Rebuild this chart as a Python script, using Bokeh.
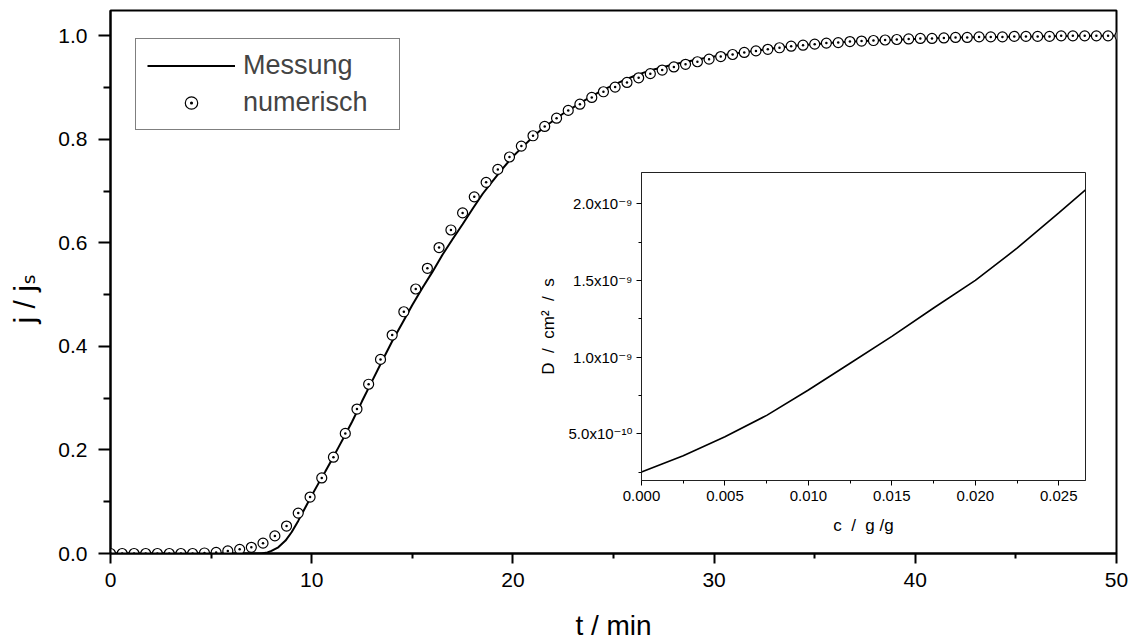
from bokeh.plotting import figure
from bokeh.models import (Range1d, FixedTicker, PrintfTickFormatter, Legend, LegendItem,
                          CustomJSTickFormatter)
from bokeh.embed import file_html
from bokeh.resources import INLINE

FONT = "Liberation Sans"
FONT_FB = "Liberation Sans, DejaVu Sans, Noto Sans"

# ---- main chart data: j/js vs t (min)
t_num = [0.00, 0.58, 1.17, 1.75, 2.33, 2.92, 3.50, 4.08, 4.67, 5.25,
         5.83, 6.42, 7.00, 7.58, 8.17, 8.75, 9.33, 9.92, 10.50, 11.08,
         11.67, 12.25, 12.83, 13.42, 14.00, 14.58, 15.17, 15.75, 16.33, 16.92,
         17.50, 18.08, 18.67, 19.25, 19.83, 20.42, 21.00, 21.58, 22.17, 22.75,
         23.33, 23.92, 24.50, 25.08, 25.67, 26.25, 26.83, 27.42, 28.00, 28.58,
         29.17, 29.75, 30.33, 30.92, 31.50, 32.08, 32.67, 33.25, 33.83, 34.42,
         35.00, 35.58, 36.17, 36.75, 37.33, 37.92, 38.50, 39.08, 39.67, 40.25,
         40.83, 41.42, 42.00, 42.58, 43.17, 43.75, 44.33, 44.92, 45.50, 46.08,
         46.67, 47.25, 47.83, 48.42, 49.00, 49.58, 50.17]
j_num = [0.000, 0.000, 0.000, 0.000, 0.000, 0.000, 0.000, 0.000, 0.001, 0.002,
         0.005, 0.008, 0.012, 0.020, 0.034, 0.053, 0.078, 0.109, 0.146, 0.186,
         0.232, 0.279, 0.327, 0.375, 0.422, 0.467, 0.511, 0.551, 0.591, 0.625,
         0.658, 0.689, 0.717, 0.742, 0.766, 0.787, 0.807, 0.825, 0.841, 0.856,
         0.868, 0.881, 0.892, 0.901, 0.910, 0.919, 0.927, 0.934, 0.940, 0.945,
         0.950, 0.955, 0.960, 0.964, 0.968, 0.971, 0.974, 0.977, 0.980, 0.982,
         0.984, 0.986, 0.987, 0.989, 0.990, 0.991, 0.992, 0.993, 0.994, 0.995,
         0.995, 0.996, 0.997, 0.997, 0.998, 0.998, 0.998, 0.999, 0.999, 0.999,
         0.999, 1.000, 1.000, 1.000, 1.000, 1.000, 1.000]

t_mess = [0.0, 5.0, 7.0, 7.5, 7.8, 8.0, 8.34, 8.7, 9.0, 9.33, 9.67, 10.0, 10.33, 10.67,
          11.0, 11.33, 11.66, 12.0, 12.5, 13.0, 13.5, 14.0, 14.5, 15.0, 15.5, 16.0,
          16.5, 17.0, 17.5, 18.0, 18.5, 19.0, 19.5, 20.0, 20.5, 21.0, 21.5, 22.0,
          22.5, 23.0, 23.5, 24.0, 24.5, 25.0, 25.5, 26.0, 26.5, 27.0, 27.5, 28.0,
          28.5, 29.0, 29.5, 30.0, 31.0, 32.0, 33.0, 34.0, 35.0, 36.0, 38.0, 40.0,
          42.0, 44.0, 46.0, 48.0, 50.0]
j_mess = [0.0, 0.0, 0.0, 0.0, 0.002, 0.005, 0.012, 0.025, 0.041, 0.063, 0.088, 0.112,
          0.135, 0.158, 0.181, 0.205, 0.229, 0.254, 0.294, 0.333, 0.372, 0.410,
          0.445, 0.480, 0.513, 0.544, 0.577, 0.607, 0.636, 0.666, 0.695, 0.720,
          0.744, 0.767, 0.786, 0.805, 0.822, 0.836, 0.850, 0.862, 0.874, 0.885,
          0.896, 0.905, 0.914, 0.922, 0.929, 0.935, 0.940, 0.945, 0.949, 0.953,
          0.957, 0.960, 0.966, 0.971, 0.976, 0.981, 0.984, 0.987, 0.991, 0.994,
          0.997, 0.998, 0.999, 1.000, 1.000]

x_ticks = [0, 10, 20, 30, 40, 50]
x_minor = [5, 15, 25, 35, 45]
y_ticks = [0.0, 0.2, 0.4, 0.6, 0.8, 1.0]
y_minor = [0.1, 0.3, 0.5, 0.7, 0.9]

# ---- inset data: D (cm^2/s) vs c (g/g)
c_vals = [0.0, 0.0025, 0.005, 0.0075, 0.010, 0.0125, 0.015, 0.0175, 0.020, 0.0225, 0.025, 0.0266]
D_vals = [2.5e-10, 3.57e-10, 4.8e-10, 6.2e-10, 7.85e-10, 9.6e-10, 1.135e-9, 1.32e-9,
          1.5e-9, 1.71e-9, 1.94e-9, 2.09e-9]
c_ticks = [0.0, 0.005, 0.010, 0.015, 0.020, 0.025]
c_minor = [0.0025, 0.0075, 0.0125, 0.0175, 0.0225]
D_ticks = [5.0e-10, 1.0e-9, 1.5e-9, 2.0e-9]
D_minor = [2.5e-10, 7.5e-10, 1.25e-9, 1.75e-9]

NB = "\u00a0"

# ================= main figure
p = figure(width=1136, height=643, output_backend="svg", toolbar_location=None,
           x_range=Range1d(0, 50), y_range=Range1d(0, 1.049),
           min_border_left=110, min_border_right=20, min_border_top=10, min_border_bottom=89)
p.grid.visible = False
p.outline_line_color = "black"
p.outline_line_width = 2
p.background_fill_color = "white"
p.border_fill_color = "white"

for ax in (p.xaxis[0], p.yaxis[0]):
    ax.axis_line_width = 2
    ax.axis_line_color = "black"
    ax.major_tick_line_width = 2
    ax.minor_tick_line_width = 2
    ax.major_tick_in = 0
    ax.minor_tick_in = 0
    ax.major_label_text_font = FONT
    ax.major_label_text_font_size = "21px"
    ax.major_label_text_color = "black"
    ax.axis_label_text_font_size = "28px"
    ax.axis_label_text_font_style = "normal"
    ax.axis_label_text_color = "black"

p.xaxis.ticker = FixedTicker(ticks=x_ticks, minor_ticks=x_minor)
p.xaxis.formatter = PrintfTickFormatter(format="%d")
p.xaxis.major_tick_out = 10
p.xaxis.minor_tick_out = 5
p.xaxis.major_label_standoff = 9
p.xaxis.axis_label = "t / min"
p.xaxis.axis_label_text_font = FONT
p.xaxis.axis_label_standoff = 20

p.yaxis.ticker = FixedTicker(ticks=y_ticks, minor_ticks=y_minor)
p.yaxis.formatter = PrintfTickFormatter(format="%.1f")
p.yaxis.major_tick_out = 12
p.yaxis.minor_tick_out = 7
p.yaxis.major_label_standoff = 11
p.yaxis.axis_label = "j / j\u209b" + NB * 4
p.yaxis.axis_label_text_font = FONT_FB
p.yaxis.axis_label_text_font_size = "30px"
p.yaxis.axis_label_standoff = 14

r_line = p.line(t_mess, j_mess, line_color="black", line_width=2)
r_circ = p.scatter(t_num, j_num, marker="circle_dot", size=10, line_color="black",
                   line_width=1.2, fill_color="white")

legend = Legend(items=[LegendItem(label="Messung", renderers=[r_line]),
                       LegendItem(label="numerisch", renderers=[r_circ])],
                location=(25, 423), padding=11, spacing=6, glyph_width=88, glyph_height=31,
                label_height=31, label_width=145, label_standoff=8,
                label_text_font=FONT, label_text_font_size="27px",
                border_line_color="black", border_line_width=1,
                background_fill_color="white", background_fill_alpha=1.0,
                margin=0)
p.add_layout(legend, "center")

# ================= inset figure
inset = figure(width=556, height=378, output_backend="svg", toolbar_location=None,
               x_range=Range1d(0, 0.0266), y_range=Range1d(1.95e-10, 2.204e-9),
               min_border_left=90, min_border_right=6, min_border_top=5, min_border_bottom=65,
               styles={"position": "absolute", "left": "535px", "top": "167px"})
inset.grid.visible = False
inset.outline_line_color = "#222222"
inset.outline_line_width = 1
inset.background_fill_color = "white"
inset.border_fill_alpha = 0

for ax in (inset.xaxis[0], inset.yaxis[0]):
    ax.axis_line_width = 1
    ax.axis_line_color = "#222222"
    ax.major_tick_in = 0
    ax.minor_tick_in = 0
    ax.major_tick_out = 5
    ax.minor_tick_out = 3
    ax.major_label_text_font = FONT_FB
    ax.major_label_text_font_size = "15px"
    ax.major_label_text_color = "black"
    ax.axis_label_text_font = FONT
    ax.axis_label_text_font_size = "17px"
    ax.axis_label_text_font_style = "normal"
    ax.axis_label_text_color = "black"

inset.xaxis.ticker = FixedTicker(ticks=c_ticks, minor_ticks=c_minor)
inset.xaxis.formatter = PrintfTickFormatter(format="%.3f")
inset.xaxis.major_label_standoff = 5
inset.xaxis.axis_label = "c" + NB * 2 + "/" + NB * 2 + "g" + NB + "/g"
inset.xaxis.axis_label_standoff = 12

inset.yaxis.ticker = FixedTicker(ticks=D_ticks, minor_ticks=D_minor)
inset.yaxis.formatter = CustomJSTickFormatter(code="""
const e = Math.floor(Math.log10(Math.abs(tick)) + 1e-9);
const m = tick / Math.pow(10, e);
const sup = {'-':'\u207b','0':'\u2070','1':'\u00b9','2':'\u00b2','3':'\u00b3','4':'\u2074','5':'\u2075','6':'\u2076','7':'\u2077','8':'\u2078','9':'\u2079'};
const es = String(e).split('').map(c => sup[c]).join('');
return m.toFixed(1) + 'x10' + es;
""")
inset.yaxis.major_label_standoff = 4
inset.yaxis.axis_label = "D" + NB * 2 + "/" + NB * 2 + "cm\u00b2" + NB * 2 + "/" + NB * 2 + "s"
inset.yaxis.axis_label_standoff = 8

inset.line(c_vals, D_vals, line_color="black", line_width=1.6)

open("out.html", "w").write(file_html([p, inset], INLINE))
